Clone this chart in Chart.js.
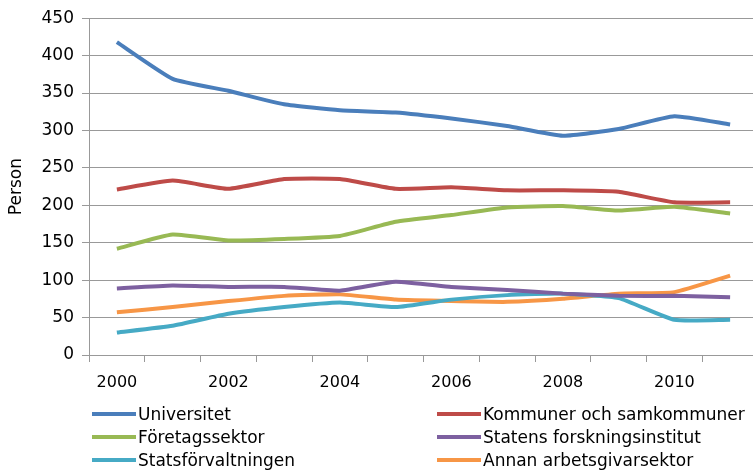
<!DOCTYPE html>
<html>
<head>
<meta charset="utf-8">
<script src="https://cdn.jsdelivr.net/npm/chart.js@4"></script>
<style>
  html, body { margin: 0; padding: 0; background: #fff; overflow: hidden; }
  #wrap { position: relative; width: 760px; height: 470px; }
  #legend { position: absolute; left: 0; top: 0; width: 760px; height: 470px; pointer-events: none; }
  .item { position: absolute; height: 24px; display: flex; align-items: center;
          font-family: "DejaVu Sans", sans-serif; font-size: 17px; color: #000; white-space: nowrap; }
  .swatch { width: 44px; height: 4px; margin-right: 2px; }
</style>
</head>
<body>
<div id="wrap">
  <canvas id="chart" width="760" height="400"></canvas>
  <div id="legend"></div>
</div>
<script>
// Years along the x axis
const years = ['2000', '2001', '2002', '2003', '2004', '2005', '2006', '2007', '2008', '2009', '2010', '2011'];

// Persons per employer sector
const universitet = [418, 369, 353, 335, 327, 324, 316, 306, 293, 302, 319, 308];
const kommuner = [221, 233, 222, 235, 235, 222, 224, 220, 220, 218, 204, 204];
const foretag = [142, 161, 153, 155, 159, 178, 187, 197, 199, 193, 198, 189];
const statensInstitut = [89, 93, 91, 91, 86, 98, 91, 87, 82, 79, 79, 77];
const statsforvaltning = [30, 39, 55, 64, 70, 64, 74, 80, 82, 76, 47, 47];
const annan = [57, 64, 72, 79, 81, 74, 72, 71, 75, 82, 84, 106];

const seriesNames = ['Universitet', 'Kommuner och samkommuner', 'Företagssektor',
  'Statens forskningsinstitut', 'Statsförvaltningen', 'Annan arbetsgivarsektor'];
const seriesData = [universitet, kommuner, foretag, statensInstitut, statsforvaltning, annan];
const seriesColors = ['#4a7ebb', '#be4b48', '#98b954', '#7d60a0', '#46aac5', '#f79646'];

const yTicks = [0, 50, 100, 150, 200, 250, 300, 350, 400, 450];

const datasets = seriesNames.map((name, i) => ({
  label: name,
  data: seriesData[i],
  borderColor: seriesColors[i],
  backgroundColor: seriesColors[i],
  borderWidth: 4,
  pointRadius: 0,
  tension: 0.15,
  fill: false
}));

const ctx = document.getElementById('chart').getContext('2d');
new Chart(ctx, {
  type: 'line',
  data: { labels: years, datasets: datasets },
  options: {
    responsive: false,
    animation: false,
    layout: { padding: { top: 15, right: 2, left: 0, bottom: 0 } },
    plugins: { legend: { display: false }, tooltip: { enabled: false } },
    scales: {
      x: {
        offset: true,
        grid: { display: true, offset: true, drawOnChartArea: false, drawTicks: true, tickLength: 7, color: '#999' },
        border: { display: true, color: '#999' },
        ticks: {
          autoSkip: false, maxRotation: 0, padding: 11,
          font: { family: 'DejaVu Sans', size: 16 }, color: '#000',
          callback: (v, i) => (i % 2 === 0 ? years[i] : '')
        },
        afterFit: s => { s.height = 45; }
      },
      y: {
        min: yTicks[0], max: yTicks[yTicks.length - 1],
        afterBuildTicks: s => { s.ticks = yTicks.map(v => ({ value: v })); },
        grid: { color: '#999', tickLength: 7 },
        border: { display: true, color: '#999' },
        ticks: { padding: 8, font: { family: 'DejaVu Sans', size: 17 }, color: '#000' },
        title: { display: true, text: 'Person', font: { family: 'DejaVu Sans', size: 17 }, color: '#000', padding: { top: 6, bottom: 0 } },
        afterFit: s => { s.width = 89; }
      }
    }
  }
});

// Two-column legend under the chart
const legend = document.getElementById('legend');
seriesNames.forEach((name, i) => {
  const col = i % 2, row = Math.floor(i / 2);
  const el = document.createElement('div');
  el.className = 'item';
  el.style.left = (col === 0 ? 92 : 437) + 'px';
  el.style.top = (402 + row * 23) + 'px';
  el.innerHTML = '<span class="swatch" style="background:' + seriesColors[i] + '"></span>' + name;
  legend.appendChild(el);
});
</script>
</body>
</html>
